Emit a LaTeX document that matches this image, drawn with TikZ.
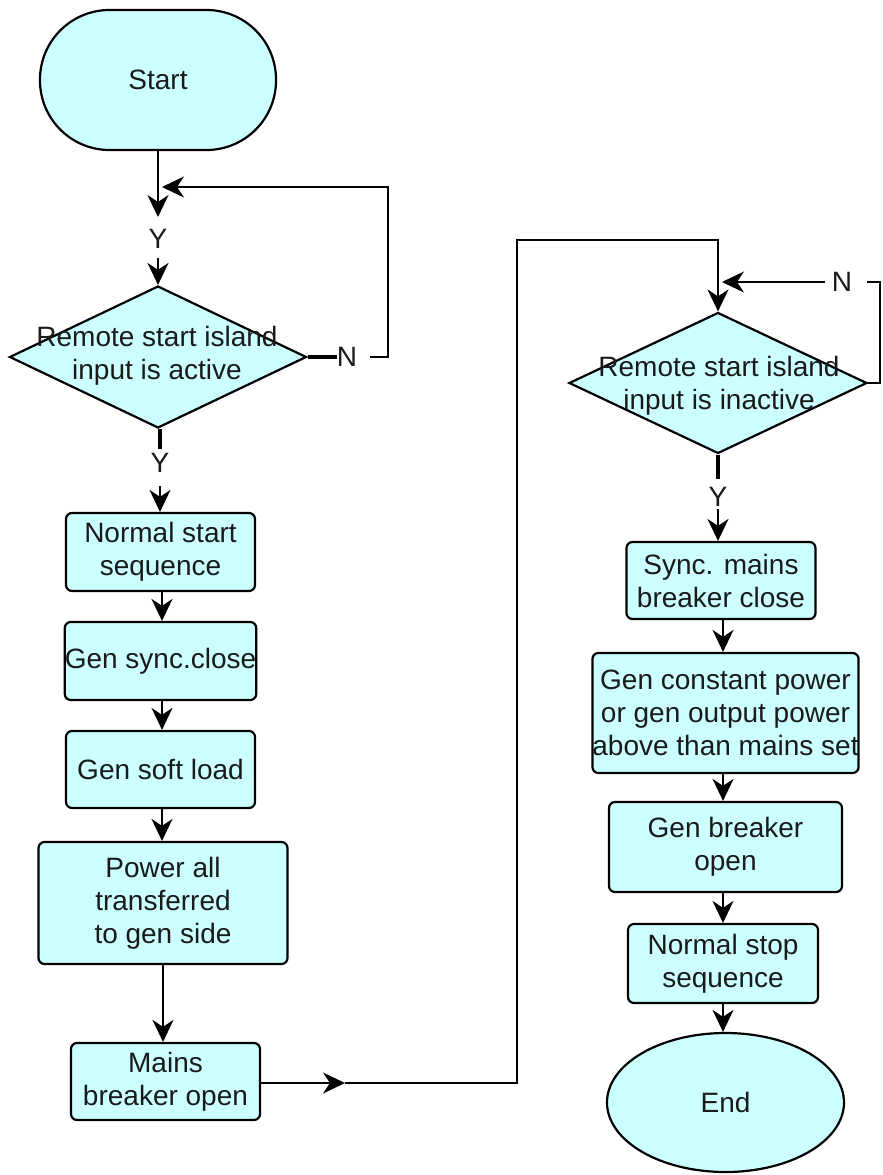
\documentclass[tikz,border=0pt]{standalone}
\usepackage{fontspec}
\setmainfont{Liberation Sans}
\usetikzlibrary{arrows.meta,shapes.geometric}
\definecolor{cyanfill}{HTML}{CCFFFF}
\definecolor{textc}{HTML}{1A1A1A}
\newcommand\fsz{\fontsize{28}{33}\selectfont}
\tikzset{
  box/.style={draw=black, line width=2.2pt, fill=cyanfill, rounded corners=6pt, text=textc, align=center, font=\fsz, inner sep=0pt},
  dia/.style={draw=black, diamond, fill=cyanfill, line width=2.2pt, inner sep=0pt},
  lbl/.style={text=textc, font=\fsz, inner sep=0pt, align=center},
  arr/.style={line width=2.2pt, -{Stealth[length=22pt,width=21pt,inset=7pt]}},
  ln/.style={line width=2.2pt},
  stub/.style={line width=4.5pt}
}
\begin{document}
\begin{tikzpicture}[x=1pt,y=-1pt]
\useasboundingbox (0,0) rectangle (883,1175);
% ---------- left column ----------
\node[box, rounded corners=69.5pt, minimum width=236pt, minimum height=140pt] (start) at (158,80) {Start};
\node[dia, minimum width=297pt, minimum height=142pt] (d1) at (158,357) {};
\node[lbl] (d1t) at (157,356) {Remote start island\\input is active};
\node[box, minimum width=189pt, minimum height=78pt] (b1) at (160.5,552) {Normal start\\sequence};
\node[box, minimum width=189pt, minimum height=78pt] (b2) at (160.5,661) {Gen sync.close};
\node[box, minimum width=189pt, minimum height=77pt] (b3) at (160.5,769.5) {Gen soft load};
\node[box, minimum width=249pt, minimum height=122pt] (b4) at (163,903) {Power all\\transferred\\to gen side};
\node[box, minimum width=189pt, minimum height=77pt] (b5) at (165.5,1081.5) {Mains\\breaker open};
\node[lbl] (y1) at (158,239) {Y};
\node[lbl] (y2) at (160,463) {Y};
\node[lbl] (n1) at (347,357) {N};
\coordinate (t1) at (158,217);
\coordinate (s1) at (158,258);
\coordinate (lp) at (162,187);
\coordinate (ys) at (160,449);
\coordinate (s2) at (160,486);
\coordinate (ax) at (162,0);
\coordinate (m1) at (345,1083);
% ---------- right column ----------
\node[dia, minimum width=298pt, minimum height=141pt] (d2) at (718,383) {};
\node[lbl] (d2t) at (719,386) {Remote start island\\input is inactive};
\node[box, minimum width=189pt, minimum height=77pt] (c1) at (721,580.5) {Sync. mains\\breaker close};
\node[box, minimum width=249pt, minimum height=120pt] (c2) at (725.5,713) {Gen constant power\\or gen output power\\above than mains set};
\node[box, minimum width=233pt, minimum height=90pt] (c3) at (725.5,847) {Gen breaker\\open};
\node[box, minimum width=190pt, minimum height=79pt] (c4) at (723,963.5) {Normal stop\\sequence};
\node[draw=black, ellipse, fill=cyanfill, line width=2.2pt, text=textc, font=\fsz, inner sep=0pt, minimum width=237pt, minimum height=139pt] (end) at (725.5,1102.5) {End};
\node[lbl] (y3) at (718,497) {Y};
\node[lbl] (n2) at (842,282) {N};
\coordinate (bx) at (723,0);
\coordinate (ys2) at (718,479);
\coordinate (s3) at (718,509);
% ---------- left connectors ----------
\draw[arr] (start.south) -- (t1);
\draw[arr] (s1) -- (d1.north);
\draw[stub] (d1.east) -- ++(29,0);
\draw[arr] ([xshift=13pt]n1.east) -- (388,357) -- (388,187) -- (lp);
\draw[stub] (d1.south -| ys) -- (ys);
\draw[arr] (s2) -- (s2 |- b1.north);
\draw[arr] (b1.south -| ax) -- (b2.north -| ax);
\draw[arr] (b2.south -| ax) -- (b3.north -| ax);
\draw[arr] (b3.south -| ax) -- (b4.north -| ax);
\draw[arr] (b4.south) -- (b4.south |- b5.north);
\draw[arr] (b5.east |- m1) -- (m1);
\draw[arr] (m1) -- (517,1083) -- (517,240) -- (718,240) -- (d2.north);
% ---------- right connectors ----------
\draw[ln] (d2.east) -- (880,383) -- (880,282) -- (867,282);
\draw[arr] ([xshift=-7pt]n2.west) -- (722,282);
\draw[stub] (d2.south) -- (ys2);
\draw[arr] (s3) -- (s3 |- c1.north);
\draw[arr] (c1.south -| bx) -- (c2.north -| bx);
\draw[arr] (c2.south -| bx) -- (c3.north -| bx);
\draw[arr] (c3.south -| bx) -- (c4.north -| bx);
\draw[arr] (c4.south -| bx) -- (end.north -| bx);
\end{tikzpicture}
\end{document}
